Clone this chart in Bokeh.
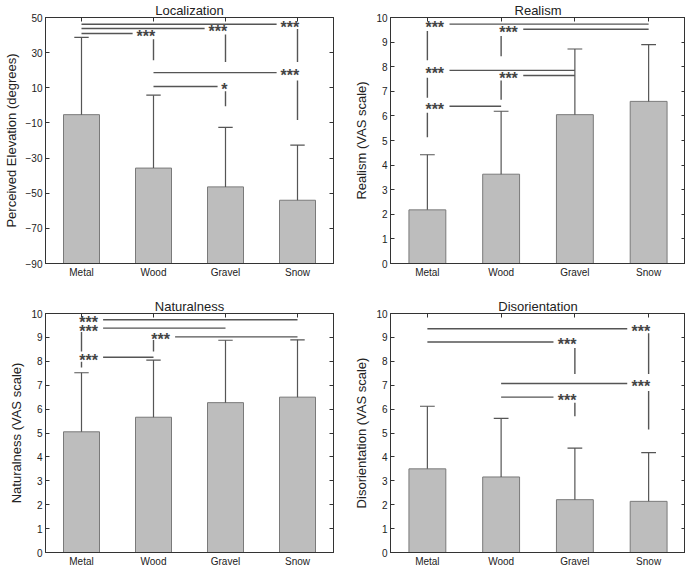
import math
from bokeh.plotting import figure
from bokeh.models import FixedTicker, LinearAxis, Range1d
from bokeh.layouts import gridplot
from bokeh.core.properties import value
from bokeh.embed import file_html
from bokeh.resources import INLINE

categories = ["Metal", "Wood", "Gravel", "Snow"]

loc_mean = [-5.3, -35.7, -46.4, -54.0]
loc_sd = [44.0, 41.5, 33.9, 31.4]
real_mean = [2.18, 3.63, 6.05, 6.59]
real_sd = [2.24, 2.56, 2.67, 2.31]
nat_mean = [5.05, 5.66, 6.27, 6.50]
nat_sd = [2.47, 2.39, 2.61, 2.40]
dis_mean = [3.50, 3.16, 2.21, 2.14]
dis_sd = [2.62, 2.45, 2.16, 2.04]

loc_ticks = [-90, -70, -50, -30, -10, 10, 30, 50]
scale_ticks = [0, 1, 2, 3, 4, 5, 6, 7, 8, 9, 10]

# significance marks: (group i, group j, line level, label, connector top, connector bottom)
loc_sig = [
    (1, 2, 40.9, "***", 37.6, 25.6),
    (1, 3, 43.7, "***", 40.3, 24.7),
    (1, 4, 46.2, "***", 43.4, 24.7),
    (2, 4, 18.6, "***", 14.2, -8.3),
    (2, 3, 10.7, "*", 8.0, -0.5),
]
real_sig = [
    (1, 4, 9.73, "***", 9.45, 8.26),
    (2, 4, 9.52, "***", 9.25, 8.42),
    (1, 3, 7.85, "***", 7.55, 6.74),
    (2, 3, 7.64, "***", 7.44, 6.66),
    (1, 2, 6.39, "***", 6.13, 5.13),
]
nat_sig = [
    (1, 4, 9.74, "***", None, None),
    (1, 3, 9.39, "***", 9.23, 8.41),
    (2, 4, 9.02, "***", 8.89, 8.41),
    (1, 2, 8.17, "***", 7.98, 7.74),
]
dis_sig = [
    (1, 4, 9.36, "***", 9.17, 7.47),
    (1, 3, 8.81, "***", 8.56, 7.47),
    (2, 4, 7.07, "***", 6.76, 5.15),
    (2, 3, 6.50, "***", 6.27, 5.70),
]

FONT = "Liberation Sans"
TXT = "#222222"
FRAME = "#333333"
SIGC = "#555555"


def minus(t):
    return str(t).replace("-", "\u2212")


def panel(title, ylabel, mean, sd, yticks, y0, y1, sig, style, width, height, bl, br, bt):
    xs = [i + 1 for i in range(len(categories))]
    p = figure(width=width, height=height, x_range=Range1d(0.5, 4.5), y_range=Range1d(y0, y1),
               output_backend="svg", toolbar_location=None,
               min_border_left=bl, min_border_right=br, min_border_top=bt, min_border_bottom=0)
    p.title.text = title
    p.title.align = "center"
    p.title.text_font = FONT
    p.title.text_font_size = "13px"
    p.title.text_font_style = "normal"
    p.title.text_color = TXT
    p.title.standoff = 0
    p.grid.visible = False
    p.outline_line_color = FRAME
    p.background_fill_color = "white"
    p.border_fill_color = "white"

    p.xaxis.ticker = FixedTicker(ticks=xs)
    p.xaxis.major_label_overrides = {x: c for x, c in zip(xs, categories)}
    p.yaxis.ticker = FixedTicker(ticks=yticks)
    p.yaxis.major_label_overrides = {t: minus(t) for t in yticks}
    p.yaxis.axis_label = ylabel
    for ax in p.xaxis + p.yaxis:
        ax.major_label_text_font = FONT
        ax.major_label_text_font_size = "10px"
        ax.major_label_text_color = TXT
        ax.major_label_standoff = 3
        ax.axis_label_text_font = FONT
        ax.axis_label_text_font_size = "13px"
        ax.axis_label_text_font_style = "normal"
        ax.axis_label_text_color = TXT
        ax.axis_label_standoff = 4
        ax.axis_line_color = FRAME
        ax.major_tick_line_color = FRAME
        ax.minor_tick_line_color = None
        ax.major_tick_out = 0
        ax.major_tick_in = 4
    p.xaxis.major_tick_in = 0
    p.xaxis.axis_label_standoff = 0

    ra = LinearAxis(ticker=FixedTicker(ticks=yticks), major_label_text_color=None,
                    major_label_text_font_size="0px",
                    major_label_standoff=0, major_tick_in=4, major_tick_out=0,
                    minor_tick_line_color=None, axis_line_color=FRAME, major_tick_line_color=FRAME)
    p.add_layout(ra, "right")
    ta = LinearAxis(ticker=FixedTicker(ticks=xs), major_label_text_color=None,
                    major_label_text_font_size="0px",
                    major_label_standoff=0, major_tick_in=4, major_tick_out=0,
                    minor_tick_line_color=None, axis_line_color=FRAME, major_tick_line_color=FRAME)
    p.add_layout(ta, "above")

    p.vbar(x=xs, top=mean, bottom=y0, width=0.5, fill_color="#bdbdbd", line_color="#7a7a7a", line_width=1)
    tops = [m + s for m, s in zip(mean, sd)]
    p.segment(x0=xs, y0=mean, x1=xs, y1=tops, line_color="#555555", line_width=1.2)
    p.segment(x0=[x - 0.1 for x in xs], y0=tops, x1=[x + 0.1 for x in xs], y1=tops,
              line_color="#555555", line_width=1.2)

    hx0, hx1, hy, tx, ty, tl, vx, vy0, vy1 = [], [], [], [], [], [], [], [], []
    for (i, j, lev, lab, vt, vb) in sig:
        n = len(lab)
        if style == "right":
            hx0.append(i)
            hx1.append(j - (0.09 * n + 0.02))
            tx.append(j + 0.03 - 0.045 * n)
            cx = j
        else:
            hx0.append(i + 0.3)
            hx1.append(j)
            tx.append(i + 0.1)
            cx = i
        hy.append(lev)
        ty.append(lev)
        tl.append(lab)
        if vt is not None:
            vx.append(cx)
            vy0.append(vt)
            vy1.append(vb)
    p.segment(x0=hx0, y0=hy, x1=hx1, y1=hy, line_color=SIGC, line_width=1.4)
    p.segment(x0=vx, y0=vy0, x1=vx, y1=vy1, line_color=SIGC, line_width=1.4)
    p.text(x=tx, y=ty, text=tl, text_align="center", text_baseline="middle",
           text_font=value(FONT), text_font_size="16px", text_font_style="bold",
           text_color="#444444", y_offset=3)
    return p


WL, WR = 338, 347
p1 = panel("Localization", "Perceived Elevation (degrees)", loc_mean, loc_sd, loc_ticks, -90, 50,
           loc_sig, "right", WL, 280, 39, 5, 0)
p2 = panel("Realism", "Realism (VAS scale)", real_mean, real_sd, scale_ticks, 0, 10,
           real_sig, "left", WR, 280, 52, 0, 0)
p3 = panel("Naturalness", "Naturalness (VAS scale)", nat_mean, nat_sd, scale_ticks, 0, 10,
           nat_sig, "left", WL, 289, 39, 5, 33)
p4 = panel("Disorientation", "Disorientation (VAS scale)", dis_mean, dis_sd, scale_ticks, 0, 10,
           dis_sig, "right", WR, 289, 52, 0, 33)

grid = gridplot([[p1, p2], [p3, p4]], toolbar_location=None)
open("out.html", "w").write(file_html(grid, INLINE))
